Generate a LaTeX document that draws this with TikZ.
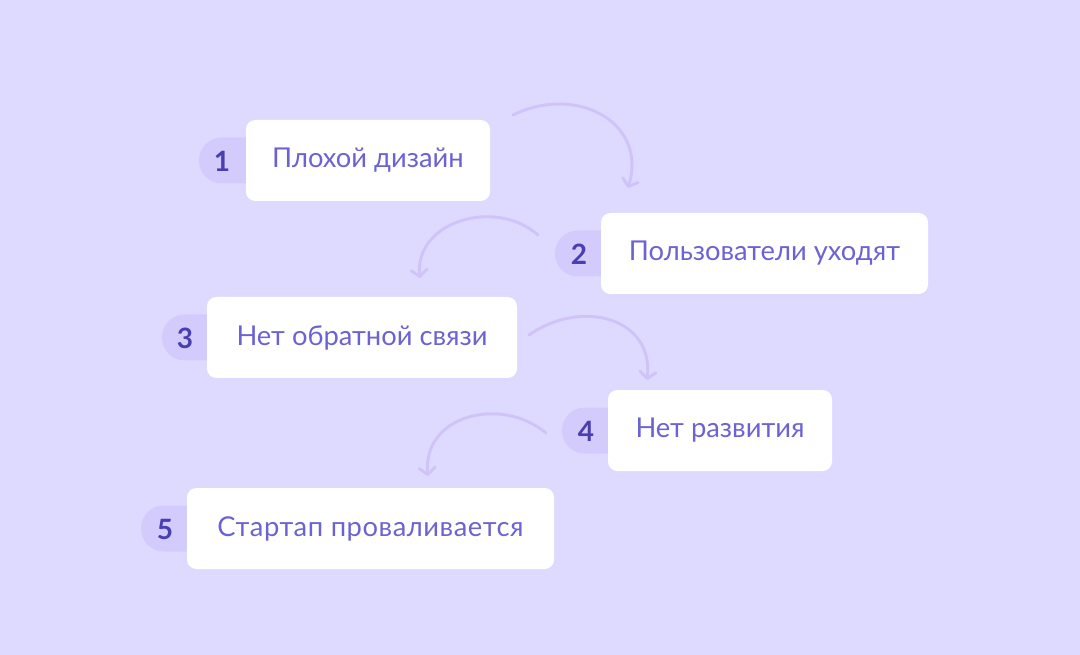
\documentclass[tikz,border=0pt]{standalone}
\usepackage{fontspec}
\setmainfont{Lato}
\usetikzlibrary{arrows.meta}
\definecolor{bg}{HTML}{DEDAFF}
\definecolor{pillc}{HTML}{D4CBFD}
\definecolor{numc}{HTML}{4A3FB2}
\definecolor{txtc}{HTML}{6B63D3}
\definecolor{arrc}{HTML}{D0C3FA}
\begin{document}
\begin{tikzpicture}[x=0.75pt,y=-0.75pt,
  box/.style={fill=white, rounded corners=7pt, minimum height=60.75pt, inner sep=0pt,
     text=txtc, font=\fontsize{20.5}{24}\selectfont},
  pill/.style={fill=pillc, rounded corners=17pt},
  num/.style={text=numc, font=\fontsize{21}{24}\selectfont\bfseries, inner sep=0pt},
  flow/.style={draw=arrc, line width=2.2pt, line cap=round,
     -{Straight Barb[length=5pt,width=12pt,line width=2.2pt,round]}}]
\fill[bg] (0,0) rectangle (1080,655);
\useasboundingbox (0,0) rectangle (1080,655);

% pills
\fill[pill] (199,137.5) rectangle (270,183.5);
\fill[pill] (555,230.5) rectangle (625,276.5);
\fill[pill] (162,314.5) rectangle (230,360.5);
\fill[pill] (562,407.5) rectangle (630,453.5);
\fill[pill] (141,505.5) rectangle (210,551.5);

% boxes
\node[box, minimum width=183pt] (b1) at (368,160.5) {Плохой дизайн};
\node[box, minimum width=245.25pt] (b2) at (764.5,253.5) {Пользователи уходят};
\node[box, minimum width=232.5pt] (b3) at (362,337.5) {Нет обратной связи};
\node[box, minimum width=168pt] (b4) at (720,430.5) {Нет развития};
\node[box, minimum width=275.25pt] (b5) at (370.5,528.5) {\addfontfeature{LetterSpace=2}Стартап проваливается};

% numbers
\node[num] (n1) at (222,161) {1};
\node[num] (n2) at (579,254) {2};
\node[num] (n3) at (185,338) {3};
\node[num] (n4) at (586,431) {4};
\node[num] (n5) at (165,529) {5};

% arrows
\coordinate (a1s) at (513,115); \coordinate (a1e) at (628,188);
\coordinate (a2s) at (538,235); \coordinate (a2e) at (420,278);
\coordinate (a3s) at (529,335); \coordinate (a3e) at (647,380);
\coordinate (a4s) at (546,433); \coordinate (a4e) at (428,476);
\draw[flow] (a1s) .. controls (576,84) and (648,122) .. (a1e);
\draw[flow] (a2s) .. controls (495,197) and (414,222) .. (a2e);
\draw[flow] (a3s) .. controls (582,298) and (654,318) .. (a3e);
\draw[flow] (a4s) .. controls (500,395) and (422,416) .. (a4e);
\end{tikzpicture}
\end{document}
